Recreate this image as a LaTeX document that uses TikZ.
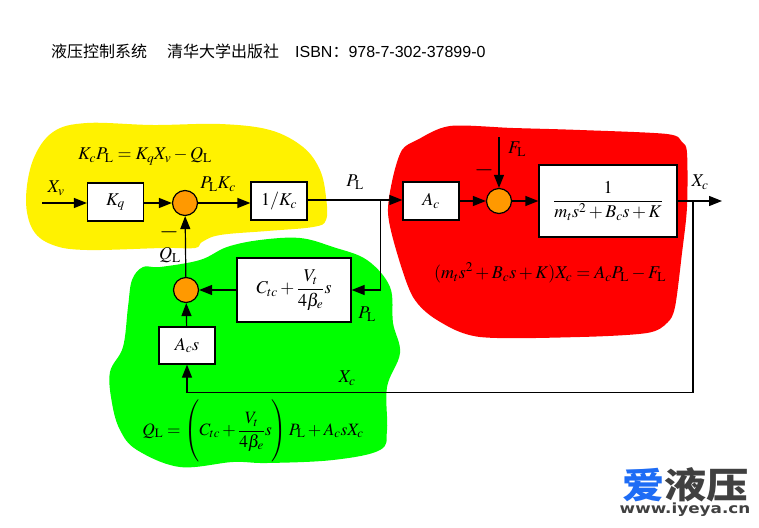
\documentclass[tikz,border=0pt]{standalone}
\usepackage{amsmath}
\usepackage{mathptmx}
\usepackage{fontspec}
\setmainfont{Liberation Sans}
\newfontfamily\cjk{Noto Sans CJK SC}
\newfontfamily\logocjk[FakeStretch=1.17]{Noto Sans CJK SC}
\newfontfamily\logolatin[FakeStretch=1.2]{DejaVu Sans}
\usetikzlibrary{arrows.meta}
\definecolor{sumorange}{HTML}{FF9900}
\definecolor{logoblue}{HTML}{1E6CF5}
\definecolor{logogray}{HTML}{404040}
\tikzset{
  blk/.style = {draw, fill = white, line width = 1.2pt, inner sep = 0pt, font = \fontsize{18}{20}\selectfont},
  sumj/.style = {draw, circle, fill = sumorange, line width = 1.2pt, minimum size = 25pt, inner sep = 0pt},
  lbl/.style = {inner sep = 0pt, font = \fontsize{18}{20}\selectfont},
  neg/.style = {inner sep = 0pt, font = \fontsize{25}{27}\selectfont},
  wire/.style = {line width = 1.2pt},
  sig/.style = {wire, -{Triangle[length = 13pt, width = 10pt]}}
}

\begin{document}
\begin{tikzpicture} [x = 1pt, y = -1pt]
\useasboundingbox (0,0) rectangle (759,527);
% patches
\fill[yellow] plot[smooth cycle, tension = .6] coordinates {(26,200) (33,160) (53,132) (87,123) (153,125) (220,124) (270,130) (303,147) (320,170) (326,197) (326,220) (313,227) (267,231) (220,235) (202,242) (195,248) (163,248) (87,250) (53,245) (33,230)};
\fill[green] plot[smooth cycle, tension = .6] coordinates {(160,267) (143,267) (132,280) (128,307) (123,347) (110,372) (112,403) (120,430) (137,450) (180,467) (233,462) (267,463) (333,460) (380,450) (387,430) (387,387) (400,353) (393,323) (390,287) (367,260) (333,247) (300,238) (260,240) (227,247) (200,260)};
\fill[red] plot[smooth cycle, tension = .5] coordinates {(450,126) (513,128) (580,130) (667,134) (682,142) (687,153) (687,207) (682,253) (675,307) (667,323) (647,333) (580,337) (480,337) (437,320) (413,297) (397,253) (388,213) (393,177) (402,150) (417,140)};
% title
\node(title) [anchor = west, inner sep = 0pt, font = \fontsize{16}{18}\selectfont] at (51,51) {{\cjk 液压控制系统}\hspace{20pt}{\cjk 清华大学出版社}\hspace{16pt}ISBN{\cjk ：}978-7-302-37899-0};
% blocks
\node(kq) [blk, minimum width = 56pt, minimum height = 38pt] at (115.5,202) {$K_q$};
\node(kc) [blk, minimum width = 56pt, minimum height = 38pt] at (279,201) {$1/K_c$};
\node(ac) [blk, minimum width = 56pt, minimum height = 38pt] at (431,201) {$A_c$};
\node(plant) [blk, minimum width = 138pt, minimum height = 72pt] at (608,201) {$\dfrac{1}{m_t s^2 + B_c s + K}$};
\node(leak) [blk, minimum width = 114pt, minimum height = 64pt] at (294,290) {$C_{tc} + \dfrac{V_t}{4\beta_e} s$};
\node(acs) [blk, minimum width = 56pt, minimum height = 37pt] at (187,345.5) {$A_c s$};
\node(s1) [sumj] at (185,203) {};
\node(s2) [sumj] at (499,201) {};
\node(s3) [sumj] at (186,290) {};
% free ends and corners
\coordinate(xv) at (42,203);
\coordinate(fl) at (499,137);
\coordinate(plj) at (380.5,200);
\coordinate(xcj) at (693,201);
\coordinate(out) at (722,201);
\coordinate(xcc) at (187,392.5);
% labels
\node(eqy) [lbl] at (145,156) {$K_c P_{\mathrm{L}} = K_q X_v - Q_{\mathrm{L}}$};
\node(lxv) [lbl] at (56,188) {$X_v$};
\node(lplkc) [lbl] at (218,184) {$P_{\mathrm{L}} K_c$};
\node(lpl) [lbl] at (355,182) {$P_{\mathrm{L}}$};
\node(lneg) [neg] at (169,232) {$-$};
\node(lql) [lbl] at (170,255) {$Q_{\mathrm{L}}$};
\node(lpl2) [lbl] at (367,314) {$P_{\mathrm{L}}$};
\node(lxc) [lbl] at (347,378) {$X_c$};
\node(eqg) [lbl, font = \fontsize{17.3}{20}\selectfont] at (253,432) {$Q_{\mathrm{L}} = \left( \vrule height 29pt depth 29pt width 0pt C_{tc} + \dfrac{V_t}{4\beta_e} s \right) P_{\mathrm{L}} + A_c s X_c$};
\node(lfl) [lbl] at (517,149) {$F_{\mathrm{L}}$};
\node(lneg2) [neg] at (484,170) {$-$};
\node(lxc2) [lbl] at (700,182) {$X_c$};
\node(eqr) [lbl] at (550,273) {$(m_t s^2 + B_c s + K) X_c = A_c P_{\mathrm{L}} - F_{\mathrm{L}}$};
% connectors
\draw[sig] (xv) -- (kq.west |- xv);
\draw[sig] (kq.east |- s1) -- (s1);
\draw[sig] (s1) -- (kc.west |- s1);
\draw[wire] (kc.east |- plj) -- (plj);
\draw[sig] (plj) -- (ac.west |- plj);
\draw[sig] (ac) -- (s2);
\draw[sig] (s2) -- (plant);
\draw[sig] (fl) -- (s2);
\draw[sig] (plant) -- (out);
\draw[sig] (plj) |- (leak.east);
\draw[sig] (leak) -- (s3);
\draw[sig] (s3) -- (s1);
\draw[sig] (acs) -- (s3);
\draw[sig] (xcj) |- (xcc) -- (acs);
% logo
\node(logoa) [anchor = west, inner sep = 0pt, text = logoblue, font = \fontsize{36}{38}\selectfont\logocjk\bfseries] at (622,485) {爱};
\node(logob) [anchor = west, inner sep = 0pt, text = logogray, font = \fontsize{36}{38}\selectfont\logocjk\bfseries] at (logoa.east) {液压};
\node(logoc) [anchor = center, inner sep = 0pt, text = logogray, font = \fontsize{14}{15}\selectfont\logolatin\bfseries] at (685,510) {www.iyeya.cn};
\end{tikzpicture}
\end{document}
